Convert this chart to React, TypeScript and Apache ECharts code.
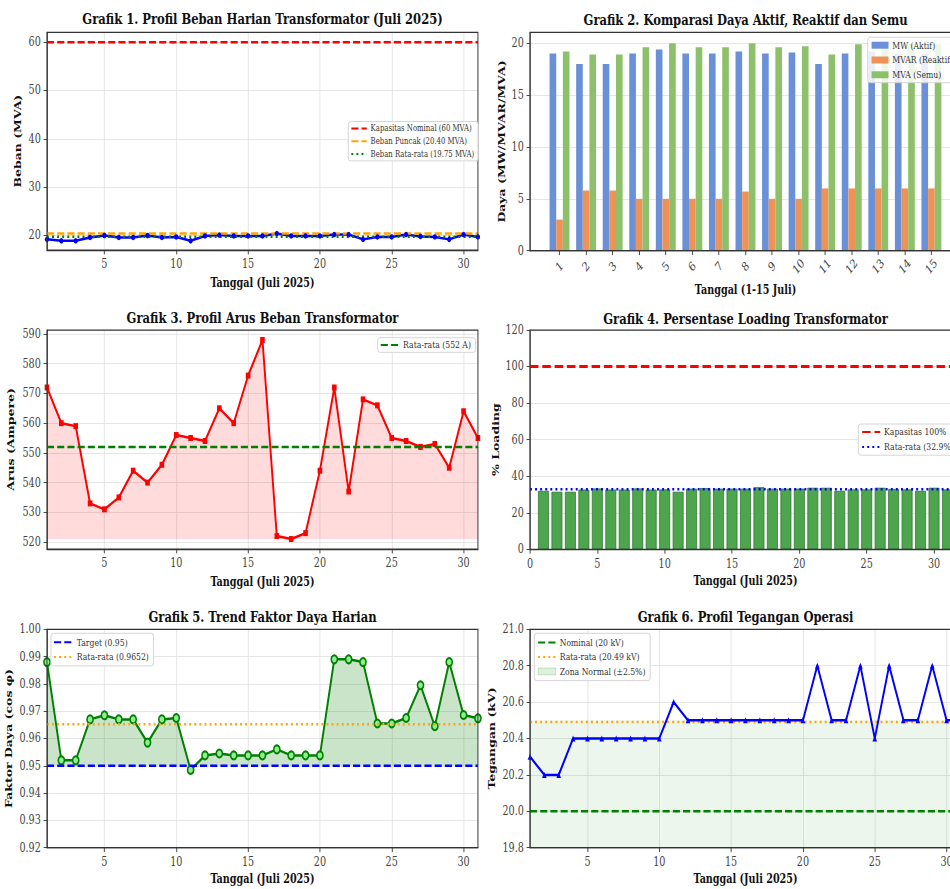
import React, { useEffect, useRef } from "react";
import * as echarts from "echarts";

// ---------- data ----------
const days = [1, 2, 3, 4, 5, 6, 7, 8, 9, 10, 11, 12, 13, 14, 15, 16, 17, 18, 19, 20, 21, 22, 23, 24, 25, 26, 27, 28, 29, 30, 31];
const days15 = [1, 2, 3, 4, 5, 6, 7, 8, 9, 10, 11, 12, 13, 14, 15];

const mvaDaily = [19.2, 18.9, 18.9, 19.6, 20.0, 19.6, 19.6, 20.0, 19.6, 19.7, 18.9, 19.9, 20.1, 19.9, 19.9, 19.9, 20.4, 19.9, 19.9, 19.9, 20.2, 20.2, 19.2, 19.7, 19.7, 20.2, 19.8, 19.7, 19.2, 20.2, 19.7];

const mw15 = [19.0, 18.0, 18.0, 19.0, 19.4, 19.0, 19.0, 19.2, 19.0, 19.1, 18.0, 19.0, 19.2, 19.0, 19.0];
const mvar15 = [3.0, 5.8, 5.8, 5.0, 5.0, 5.0, 5.0, 5.7, 5.0, 5.0, 6.0, 6.0, 6.0, 6.0, 6.0];
const mva15 = [19.2, 18.9, 18.9, 19.6, 20.0, 19.6, 19.6, 20.0, 19.6, 19.7, 18.9, 19.9, 20.1, 19.9, 19.9];

const arusDaily = [572, 560, 559, 533, 531, 535, 544, 540, 546, 556, 555, 554, 565, 560, 576, 588, 522, 521, 523, 544, 572, 537, 568, 566, 555, 554, 552, 553, 545, 564, 555];

const loadingPct = [32.0, 31.5, 31.5, 32.7, 33.3, 32.7, 32.7, 33.3, 32.7, 32.8, 31.5, 33.2, 33.5, 33.2, 33.2, 33.2, 34.0, 33.2, 33.2, 33.2, 33.7, 33.7, 32.0, 32.8, 32.8, 33.7, 33.0, 32.8, 32.0, 33.7, 32.8];

const pfDaily = [0.988, 0.952, 0.952, 0.967, 0.9685, 0.967, 0.967, 0.9585, 0.967, 0.9675, 0.9485, 0.9538, 0.9545, 0.9538, 0.9538, 0.9538, 0.956, 0.9538, 0.9538, 0.9538, 0.989, 0.989, 0.988, 0.9655, 0.9655, 0.9675, 0.9795, 0.9645, 0.988, 0.9686, 0.9674];

const teganganDaily = [20.3, 20.2, 20.2, 20.4, 20.4, 20.4, 20.4, 20.4, 20.4, 20.4, 20.6, 20.5, 20.5, 20.5, 20.5, 20.5, 20.5, 20.5, 20.5, 20.5, 20.8, 20.5, 20.5, 20.8, 20.4, 20.8, 20.5, 20.5, 20.8, 20.5, 20.5];

// reference values
const kapasitasNominal = 60;
const bebanPuncak = 20.4;
const bebanRata = 19.75;
const arusRata = 552;
const kapasitasPct = 100;
const loadingRata = 32.9;
const pfTarget = 0.95;
const pfRata = 0.9652;
const vNominal = 20;
const vRata = 20.49;
const zonaLow = 19.5;
const zonaHigh = 20.5;

// ticks
const dayTicks = [5, 10, 15, 20, 25, 30];
const dayTicks4 = [0, 5, 10, 15, 20, 25, 30];
const p1YTicks = [20, 30, 40, 50, 60];
const p2YTicks = [0, 5, 10, 15, 20];
const p3YTicks = [520, 530, 540, 550, 560, 570, 580, 590];
const p4YTicks = [0, 20, 40, 60, 80, 100, 120];
const p5YTicks = [0.92, 0.93, 0.94, 0.95, 0.96, 0.97, 0.98, 0.99, 1.0];
const p6YTicks = [19.8, 20.0, 20.2, 20.4, 20.6, 20.8, 21.0];

// ---------- layout / style ----------
const FONT = "'DejaVu Serif', serif";
const SQUEEZE = 0.77;
const CANVAS_W = 1300;
const CANVAS_H = 889;
const TICK_COLOR = "#333";
const LABEL_COLOR = "#444";
const GRIDLINE = "#e3e3e3";

const GRIDS = [
  { left: 61, top: 32.3, width: 559.7, height: 217.7 },
  { left: 688.3, top: 32.3, width: 559.7, height: 218.4 },
  { left: 61, top: 330, width: 559.7, height: 219 },
  { left: 688.3, top: 330, width: 559.7, height: 219.3 },
  { left: 61, top: 629.3, width: 559.7, height: 218.4 },
  { left: 688.3, top: 629.3, width: 559.7, height: 218.4 },
];

function xAxisCfg(gridIndex: number, min: number, max: number, ticks: number[], name: string, nameGap: number, vGrid: boolean, labelExtra: any = {}) {
  return {
    type: "value",
    gridIndex,
    min,
    max,
    name,
    nameLocation: "middle",
    nameGap,
    nameTextStyle: { fontFamily: FONT, fontSize: 12.5, fontWeight: "bold", color: "#111" },
    axisLine: { show: true, onZero: false, lineStyle: { color: TICK_COLOR, width: 1.25 } },
    axisTick: { show: true, length: 4.4, customValues: ticks, lineStyle: { color: TICK_COLOR, width: 1 } },
    axisLabel: { customValues: ticks, color: LABEL_COLOR, fontFamily: FONT, fontSize: 12.5, margin: 8, ...labelExtra },
    splitLine: { show: vGrid, lineStyle: { color: GRIDLINE, width: 1 } },
  };
}

function yAxisCfg(gridIndex: number, min: number, max: number, ticks: number[], name: string, nameGap: number, fmt?: (v: number) => string) {
  return {
    type: "value",
    gridIndex,
    min,
    max,
    name,
    nameLocation: "middle",
    nameGap,
    nameTextStyle: { fontFamily: FONT, fontSize: 12.5, fontWeight: "bold", color: "#111" },
    axisLine: { show: true, onZero: false, lineStyle: { color: TICK_COLOR, width: 1.25 } },
    axisTick: { show: true, length: 4.4, customValues: ticks, lineStyle: { color: TICK_COLOR, width: 1 } },
    axisLabel: { customValues: ticks, color: LABEL_COLOR, fontFamily: FONT, fontSize: 12.5, margin: 8, formatter: fmt },
    splitLine: { show: true, lineStyle: { color: GRIDLINE, width: 1 } },
  };
}

function hline(name: string, idx: number, x0: number, x1: number, y: number, color: string, width: number, dash: number[], z = 3) {
  return {
    name,
    type: "line",
    xAxisIndex: idx,
    yAxisIndex: idx,
    data: [[x0, y], [x1, y]],
    symbol: "none",
    silent: true,
    lineStyle: { color, width, type: dash },
    itemStyle: { color },
    z,
  };
}

function legendCfg(data: any[], left: number, top: number, fontSize: number, lineHeight: number, itemWidth: number, itemHeight: number, padding: number[], hideSymbol: boolean) {
  return {
    data,
    left,
    top,
    orient: "vertical",
    itemWidth,
    itemHeight,
    itemGap: 0,
    padding,
    selectedMode: false,
    backgroundColor: "rgba(255,255,255,0.85)",
    borderColor: "#cfcfcf",
    borderWidth: 1,
    borderRadius: 3,
    itemStyle: hideSymbol ? { opacity: 0 } : {},
    textStyle: { fontFamily: FONT, fontSize, lineHeight, color: "#333" },
    z: 20,
  };
}

const DASH = [9.25, 4];
const DOT = [2.5, 4.1];

const pair = (xs: number[], ys: number[]) => xs.map((x, i) => [x, ys[i]]);

const titleTexts = [
  { text: "Grafik 1. Profil Beban Harian Transformator (Juli 2025)", left: 340.9, top: 11 },
  { text: "Grafik 2. Komparasi Daya Aktif, Reaktif dan Semu", left: 968.2, top: 11.8 },
  { text: "Grafik 3. Profil Arus Beban Transformator", left: 340.9, top: 309.8 },
  { text: "Grafik 4. Persentase Loading Transformator", left: 968.2, top: 310.5 },
  { text: "Grafik 5. Trend Faktor Daya Harian", left: 340.9, top: 609.2 },
  { text: "Grafik 6. Profil Tegangan Operasi", left: 968.2, top: 609.2 },
];

function buildOption() {
  const title = titleTexts.map((t) => ({
    text: t.text,
    left: t.left,
    top: t.top,
    textAlign: "center",
    padding: 0,
    textStyle: { fontFamily: FONT, fontSize: 15, fontWeight: "bold", color: "#111", lineHeight: 15 },
  }));

  const grid = GRIDS.map((g) => ({
    ...g,
    show: true,
    borderColor: TICK_COLOR,
    borderWidth: 1.25,
    backgroundColor: "transparent",
    z: 5,
  }));

  const xAxis = [
    xAxisCfg(0, 1, 31, dayTicks, "Tanggal (Juli 2025)", 26.4, true),
    xAxisCfg(1, -0.1125, 16.1125, days15, "Tanggal (1-15 Juli)", 33, false, {
      rotate: 45,
      align: "center",
      verticalAlign: "middle",
      margin: 16,
    }),
    xAxisCfg(2, 1, 31, dayTicks, "Tanggal (Juli 2025)", 26.4, true),
    xAxisCfg(3, 0, 32, dayTicks4, "Tanggal (Juli 2025)", 25.4, false),
    xAxisCfg(4, 1, 31, dayTicks, "Tanggal (Juli 2025)", 25.3, true),
    xAxisCfg(5, 1, 31, dayTicks, "Tanggal (Juli 2025)", 25, true),
  ];

  const yAxis = [
    yAxisCfg(0, 17.0, 62.05, p1YTicks, "Beban (MVA)", 31),
    yAxisCfg(1, 0, 21.05, p2YTicks, "Daya (MW/MVAR/MVA)", 30.5),
    yAxisCfg(2, 517.65, 591.35, p3YTicks, "Arus (Ampere)", 39.7),
    yAxisCfg(3, 0, 120, p4YTicks, "% Loading", 38.3),
    yAxisCfg(4, 0.92, 1.0, p5YTicks, "Faktor Daya (cos φ)", 42.7, (v) => v.toFixed(2)),
    yAxisCfg(5, 19.8, 21.0, p6YTicks, "Tegangan (kV)", 42.6, (v) => v.toFixed(1)),
  ];

  const arusMin = Math.min(...arusDaily);

  const series: any[] = [
    // Panel 1
    {
      name: "Beban Harian",
      type: "line",
      xAxisIndex: 0,
      yAxisIndex: 0,
      data: pair(days, mvaDaily),
      symbol: "circle",
      symbolSize: 5.5,
      lineStyle: { color: "#0000ff", width: 2.5 },
      itemStyle: { color: "#0000ff" },
      z: 3,
    },
    hline("Kapasitas Nominal (60 MVA)", 0, 1, 31, kapasitasNominal, "#ff0000", 2.5, DASH),
    hline("Beban Puncak (20.40 MVA)", 0, 1, 31, bebanPuncak, "#ffa500", 2.5, DASH),
    hline("Beban Rata-rata (19.75 MVA)", 0, 1, 31, bebanRata, "#008000", 2.5, DOT),

    // Panel 2
    {
      name: "MW (Aktif)",
      type: "bar",
      xAxisIndex: 1,
      yAxisIndex: 1,
      data: pair(days15, mw15),
      barWidth: "25%",
      barGap: "0%",
      itemStyle: { color: "#6A90D8" },
    },
    {
      name: "MVAR (Reaktif)",
      type: "bar",
      xAxisIndex: 1,
      yAxisIndex: 1,
      data: pair(days15, mvar15),
      barWidth: "25%",
      barGap: "0%",
      itemStyle: { color: "#EF9255" },
    },
    {
      name: "MVA (Semu)",
      type: "bar",
      xAxisIndex: 1,
      yAxisIndex: 1,
      data: pair(days15, mva15),
      barWidth: "25%",
      barGap: "0%",
      itemStyle: { color: "#8DC06A" },
    },

    // Panel 3
    {
      name: "Arus Beban",
      type: "line",
      xAxisIndex: 2,
      yAxisIndex: 2,
      data: pair(days, arusDaily),
      symbol: "rect",
      symbolSize: 6,
      lineStyle: { color: "#ff0000", width: 2.5 },
      itemStyle: { color: "#ff0000" },
      areaStyle: { color: "rgba(255,0,0,0.2)", origin: arusMin },
      z: 2,
    },
    hline("Rata-rata (552 A)", 2, 1, 31, arusRata, "#008000", 2.5, DASH),

    // Panel 4
    {
      name: "Loading",
      type: "bar",
      xAxisIndex: 3,
      yAxisIndex: 3,
      data: pair(days, loadingPct),
      barWidth: "80%",
      itemStyle: { color: "#4DA64D", borderColor: "#2C6E2C", borderWidth: 0.8 },
    },
    hline("Kapasitas 100%", 3, 0, 32, kapasitasPct, "#ff0000", 3.1, [11, 5]),
    hline("Rata-rata (32.9%)", 3, 0, 32, loadingRata, "#0000ff", 2.5, DOT),

    // Panel 5
    {
      name: "Faktor Daya",
      type: "line",
      xAxisIndex: 4,
      yAxisIndex: 4,
      data: pair(days, pfDaily),
      symbol: "circle",
      symbolSize: 8,
      lineStyle: { color: "#008000", width: 2.5 },
      itemStyle: { color: "#90EE90", borderColor: "#008000", borderWidth: 2 },
      areaStyle: { color: "rgba(0,128,0,0.3)", origin: pfTarget },
      z: 2,
    },
    hline("Target (0.95)", 4, 1, 31, pfTarget, "#0000ff", 2.5, DASH),
    hline("Rata-rata (0.9652)", 4, 1, 31, pfRata, "#ffa500", 2.5, DOT),

    // Panel 6
    {
      name: "Zona Normal (±2.5%)",
      type: "line",
      xAxisIndex: 5,
      yAxisIndex: 5,
      data: [[1, zonaHigh], [31, zonaHigh]],
      symbol: "none",
      silent: true,
      lineStyle: { width: 0, opacity: 0 },
      itemStyle: { color: "rgba(0,128,0,0.12)" },
      areaStyle: { color: "rgba(0,128,0,0.1)", origin: zonaLow },
      z: 1,
    },
    hline("Nominal (20 kV)", 5, 1, 31, vNominal, "#008000", 2.5, DASH),
    hline("Rata-rata (20.49 kV)", 5, 1, 31, vRata, "#ffa500", 2.5, DOT),
    {
      name: "Tegangan",
      type: "line",
      xAxisIndex: 5,
      yAxisIndex: 5,
      data: pair(days, teganganDaily),
      symbol: "triangle",
      symbolSize: 6,
      lineStyle: { color: "#0000ff", width: 2.5 },
      itemStyle: { color: "#0000ff" },
      z: 4,
    },
  ];

  const legend = [
    legendCfg(
      ["Kapasitas Nominal (60 MVA)", "Beban Puncak (20.40 MVA)", "Beban Rata-rata (19.75 MVA)"],
      452.3, 121.5, 9, 12.8, 20, 8, [0.5, 5, 0.5, 3], true
    ),
    legendCfg(
      [
        { name: "MW (Aktif)", icon: "rect" },
        { name: "MVAR (Reaktif)", icon: "rect" },
        { name: "MVA (Semu)", icon: "rect" },
      ],
      1126.9, 37.3, 10, 14.8, 22, 7, [0.5, 6, 0.5, 5], false
    ),
    legendCfg(["Rata-rata (552 A)"], 490.5, 337.7, 10, 14.6, 24, 8, [0, 6, 0, 3], true),
    legendCfg(["Kapasitas 100%", "Rata-rata (32.9%)"], 1114.7, 424, 10, 15, 23.5, 8, [0.6, 6, 0.6, 4], true),
    legendCfg(["Target (0.95)", "Rata-rata (0.9652)"], 66.2, 633.3, 10, 14.7, 24.5, 8, [1.6, 6, 1.6, 3], true),
    legendCfg(
      [
        "Nominal (20 kV)",
        "Rata-rata (20.49 kV)",
        {
          name: "Zona Normal (±2.5%)",
          icon: "rect",
          itemStyle: { color: "rgba(0,128,0,0.13)", borderColor: "rgba(0,128,0,0.25)", borderWidth: 0.8, opacity: 1 },
        },
      ],
      693.9, 633.3, 10, 14.5, 23, 7, [1.9, 6, 1.9, 4], true
    ),
  ];

  return {
    animation: false,
    backgroundColor: "#ffffff",
    textStyle: { fontFamily: FONT },
    title,
    grid,
    xAxis,
    yAxis,
    legend,
    series,
  };
}

export default function App() {
  const ref = useRef<HTMLDivElement>(null);
  useEffect(() => {
    if (!ref.current) return;
    const chart = echarts.init(ref.current, null, { renderer: "svg" });
    chart.setOption(buildOption() as any);
    return () => chart.dispose();
  }, []);
  return (
    <div
      style={{
        position: "fixed",
        left: 0,
        top: 0,
        width: 950,
        height: CANVAS_H,
        overflow: "hidden",
        background: "#ffffff",
      }}
    >
      <div
        ref={ref}
        style={{
          width: CANVAS_W,
          height: CANVAS_H,
          transform: `scaleX(${SQUEEZE})`,
          transformOrigin: "0 0",
        }}
      />
    </div>
  );
}
